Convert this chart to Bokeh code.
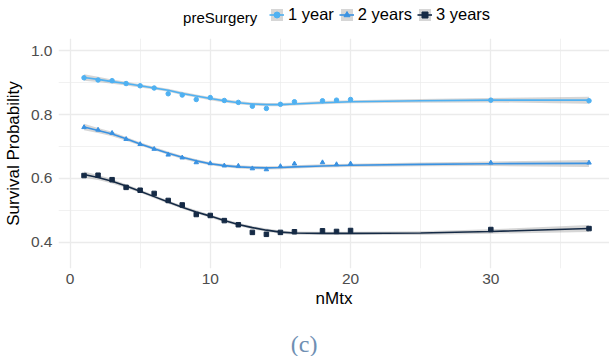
from bokeh.plotting import figure
from bokeh.layouts import column
from bokeh.models import (ColumnDataSource, FixedTicker, Legend, LegendItem,
                          Label, Range1d, NumeralTickFormatter)
from bokeh.embed import file_html
from bokeh.resources import INLINE

# ---- data ----
x_points = [1, 2, 3, 4, 5, 6, 7, 8, 9, 10, 11, 12, 13, 14, 15, 16, 18, 19, 20, 30, 37]
one_year = [0.915, 0.908, 0.906, 0.897, 0.890, 0.883, 0.865, 0.861, 0.847, 0.853, 0.844,
            0.838, 0.826, 0.819, 0.832, 0.840, 0.843, 0.845, 0.847, 0.845, 0.843]
two_years = [0.760, 0.752, 0.742, 0.723, 0.707, 0.692, 0.674, 0.665, 0.650, 0.647, 0.640,
             0.639, 0.631, 0.628, 0.638, 0.646, 0.650, 0.644, 0.646, 0.649, 0.649]
three_years = [0.609, 0.610, 0.596, 0.572, 0.563, 0.553, 0.531, 0.517, 0.487, 0.484, 0.468,
               0.455, 0.431, 0.425, 0.431, 0.433, 0.436, 0.434, 0.437, 0.440, 0.443]

x_smooth = [1, 2, 3, 4, 5, 6, 7, 8, 9, 10, 11, 12, 13, 14, 15, 16, 18, 20, 25, 30, 37]
smooth_one = [0.916, 0.910, 0.903, 0.897, 0.890, 0.883, 0.876, 0.866, 0.858, 0.850, 0.843,
              0.837, 0.833, 0.831, 0.831, 0.833, 0.837, 0.840, 0.843, 0.845, 0.845]
smooth_two = [0.761, 0.750, 0.739, 0.724, 0.708, 0.693, 0.679, 0.666, 0.655, 0.646, 0.640,
              0.636, 0.634, 0.633, 0.634, 0.636, 0.639, 0.641, 0.644, 0.646, 0.647]
smooth_three = [0.612, 0.603, 0.591, 0.576, 0.560, 0.543, 0.526, 0.510, 0.495, 0.482, 0.468,
                0.456, 0.446, 0.438, 0.432, 0.429, 0.428, 0.428, 0.429, 0.434, 0.443]
band_halfwidth = [0.010, 0.008, 0.007, 0.006, 0.005, 0.005, 0.005, 0.005, 0.005, 0.005, 0.005,
                  0.005, 0.005, 0.005, 0.005, 0.005, 0.005, 0.005, 0.006, 0.007, 0.011]

legend_title = "preSurgery"
labels = ["1 year", "2 years", "3 years"]
colors = ["#4FB1F2", "#3A92E2", "#152A45"]
markers = ["circle", "triangle", "square"]
x_ticks = [0, 10, 20, 30]
x_minor = [5, 15, 25, 35]
y_ticks = [0.4, 0.6, 0.8, 1.0]
y_minor = [0.5, 0.7, 0.9]
caption = "(c)"

FONT = "Liberation Sans"
W = 609
LEFT = 56                      # width of the left border (frames of the column are aligned)
TOP_H, MAIN_H, BOT_H = 38, 288, 30
BAND_COLOR, BAND_ALPHA = "#999999", 0.4
MARKER_SIZE = 4.5


def blank_figure(h):
    # frame is aligned with the main plot's frame, so use canvas pixels as data units
    f = figure(width=W, height=h, x_range=Range1d(LEFT, W), y_range=Range1d(0, h),
               x_axis_type=None, y_axis_type=None,
               output_backend="svg", toolbar_location=None,
               min_border_left=LEFT, min_border_right=0, min_border_top=0, min_border_bottom=0)
    f.grid.visible = False
    f.outline_line_color = None
    return f


# ---------------- main plot ----------------
p = figure(width=W, height=MAIN_H, x_range=Range1d(-0.82, 38.46), y_range=Range1d(0.318, 1.038),
           output_backend="svg", toolbar_location=None,
           min_border_left=LEFT, min_border_right=0, min_border_top=0, min_border_bottom=58)
p.outline_line_color = None

for ax in (p.xaxis[0], p.yaxis[0]):
    ax.axis_line_color = None
    ax.major_tick_line_color = None
    ax.minor_tick_line_color = None
    ax.major_tick_out = 0
    ax.major_tick_in = 0
    ax.minor_tick_out = 0
    ax.minor_tick_in = 0
    ax.major_label_text_font = FONT
    ax.major_label_text_font_size = "15.5px"
    ax.major_label_text_color = "#4d4d4d"
    ax.axis_label_text_font = FONT
    ax.axis_label_text_font_size = "17px"
    ax.axis_label_text_font_style = "normal"
    ax.axis_label_text_color = "black"

p.xaxis.ticker = FixedTicker(ticks=x_ticks, minor_ticks=x_minor)
p.yaxis.ticker = FixedTicker(ticks=y_ticks, minor_ticks=y_minor)
p.yaxis.formatter = NumeralTickFormatter(format="0.0")
p.xaxis.axis_label = "nMtx"
p.yaxis.axis_label = "Survival Probability"
p.xaxis.major_label_standoff = 5
p.xaxis.axis_label_standoff = 2
p.yaxis.major_label_standoff = 6
p.yaxis.axis_label_standoff = 5

for g in (p.xgrid[0], p.ygrid[0]):
    g.grid_line_color = "#ebebeb"
    g.grid_line_width = 1.3
    g.minor_grid_line_color = "#ebebeb"
    g.minor_grid_line_width = 0.7

series_pts = [one_year, two_years, three_years]
series_smooth = [smooth_one, smooth_two, smooth_three]
for col, mk, pts, sm in zip(colors, markers, series_pts, series_smooth):
    lo = [v - h for v, h in zip(sm, band_halfwidth)]
    hi = [v + h for v, h in zip(sm, band_halfwidth)]
    src_s = ColumnDataSource(dict(x=x_smooth, y=sm, lo=lo, hi=hi))
    src_p = ColumnDataSource(dict(x=x_points, y=pts))
    p.varea(x="x", y1="lo", y2="hi", source=src_s, fill_color=BAND_COLOR, fill_alpha=BAND_ALPHA)
    p.line(x="x", y="y", source=src_s, line_color=col, line_width=1.6)
    p.scatter(x="x", y="y", source=src_p, marker=mk, size=MARKER_SIZE, color=col)

# ---------------- legend strip ----------------
top = blank_figure(TOP_H)
items = []
for lab, col, mk in zip(labels, colors, markers):
    # one off-screen point per key so the legend glyphs have something to style
    key_src = ColumnDataSource(dict(x=[-1000], y=[-1000], lo=[-1000], hi=[-1000]))
    rb = top.varea(x="x", y1="lo", y2="hi", source=key_src, fill_color=BAND_COLOR, fill_alpha=BAND_ALPHA)
    rl = top.line(x="x", y="y", source=key_src, line_color=col, line_width=1.6)
    rp = top.scatter(x="x", y="y", source=key_src, marker=mk, size=MARKER_SIZE, color=col)
    items.append(LegendItem(label=lab, renderers=[rb, rl, rp]))
legend = Legend(items=items, orientation="horizontal", location=(267 - LEFT, 14),
                glyph_width=15, glyph_height=15, label_height=15, label_standoff=4,
                spacing=5, padding=0, margin=0, border_line_color=None,
                background_fill_alpha=0, label_text_font=FONT, label_text_font_size="16.5px",
                label_text_color="black", label_text_baseline="middle")
top.add_layout(legend, "center")
top.add_layout(Label(x=181, y=21, text=legend_title, text_font=FONT, text_font_size="15px",
                     text_baseline="middle", text_align="left", text_color="black"))

# ---------------- caption strip ----------------
bot = blank_figure(BOT_H)
bot.add_layout(Label(x=302.5, y=12.5, text=caption, text_font="Liberation Serif",
                     text_font_size="24px", text_align="center", text_baseline="middle",
                     text_color="#6f8fb3"))

layout = column(top, p, bot, spacing=0)
open("out.html", "w").write(file_html(layout, INLINE))
